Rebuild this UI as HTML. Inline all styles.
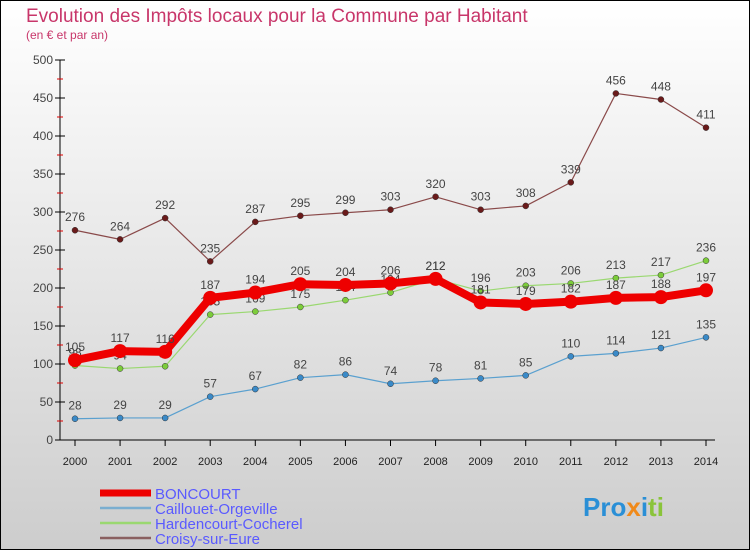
<!DOCTYPE html>
<html><head><meta charset="utf-8"><style>
body{margin:0;}
svg{display:block;font-family:"Liberation Sans",sans-serif;}
</style></head><body>
<svg id="c" width="750" height="550" xmlns="http://www.w3.org/2000/svg">
<defs><linearGradient id="bg" x1="0" y1="0" x2="0" y2="1"><stop offset="0" stop-color="#ffffff"/><stop offset="1" stop-color="#cdcdcd"/></linearGradient></defs>
<rect x="0.5" y="0.5" width="749" height="549" fill="url(#bg)" stroke="#000"/>
<text x="26" y="22" font-size="19" fill="#c8366a">Evolution des Impôts locaux pour la Commune par Habitant</text>
<text x="26" y="39" font-size="12" fill="#c8366a">(en € et par an)</text>
<g id="axes"></g><g id="series"></g><g id="legend"></g>
<text x="583" y="516" font-size="26" font-weight="bold" fill="#2a8fd6">Pro<tspan fill="#f08a1a">x</tspan><tspan fill="#2a8fd6">i</tspan><tspan fill="#8ac43a">ti</tspan></text>
</svg>
<script>
const years=[2000,2001,2002,2003,2004,2005,2006,2007,2008,2009,2010,2011,2012,2013,2014];
const boncourt=[105,117,116,187,194,205,204,206,212,181,179,182,187,188,197];
const caillouet=[28,29,29,57,67,82,86,74,78,81,85,110,114,121,135];
const hardencourt=[98,94,97,165,169,175,184,194,212,196,203,206,213,217,236];
const croisy=[276,264,292,235,287,295,299,303,320,303,308,339,456,448,411];
const yTicks=[0,50,100,150,200,250,300,350,400,450,500];
const NS="http://www.w3.org/2000/svg";
const x=i=>75+i*(706-75)/(years.length-1);
const y=v=>440-v*0.76;
function mk(t,a,p){const e=document.createElementNS(NS,t);for(const k in a)e.setAttribute(k,a[k]);p.appendChild(e);return e;}
const ax=document.getElementById('axes');
let e=mk('line',{x1:60,y1:60,x2:60,y2:440,stroke:'#000'},ax);


e=mk('line',{x1:60,y1:440,x2:715,y2:440,stroke:'#000'},ax);


yTicks.forEach(v=>{
 mk('line',{x1:55,y1:y(v),x2:65,y2:y(v),stroke:'#000'},ax);
 if(v<500)mk('line',{x1:57,y1:y(v+25),x2:63,y2:y(v+25),stroke:'#d00'},ax);
 const t=mk('text',{x:53,y:y(v)+4,'font-size':12,'text-anchor':'end',fill:'#444'},ax);t.textContent=v;
 
 
});
years.forEach((yr,i)=>{
 mk('line',{x1:x(i),y1:440,x2:x(i),y2:446,stroke:'#000'},ax);
 const t=mk('text',{x:x(i),y:465,'font-size':11,'text-anchor':'middle',fill:'#222'},ax);t.textContent=yr;
 
 
});
const S=document.getElementById('series');
function draw(data,color,w,r,name,fill){
 const g=mk('g',{},S);
 
 
 mk('polyline',{points:data.map((v,i)=>x(i)+','+y(v)).join(' '),fill:'none',stroke:color,'stroke-width':w,'stroke-linejoin':'round'},g);
 data.forEach((v,i)=>{
  const c=mk('circle',{cx:x(i),cy:y(v),r:r,fill:fill,stroke:color==='#ee0000'?'none':'#333','stroke-width':0.5},g);
  
  
  const t=mk('text',{x:x(i),y:y(v)-9,'font-size':12,'text-anchor':'middle',fill:'#444'},g);t.textContent=v;
  
  
 });
}
draw(croisy,'#8a4a4a',1.2,3,'croisy','#6a1a1a');
draw(caillouet,'#5aa0cf',1.2,3,'caillouet','#3a8ac8');
draw(hardencourt,'#9ad870',1.2,3,'hardencourt','#7ccc3a');
draw(boncourt,'#ee0000',8,7,'boncourt','#ee0000');
const L=document.getElementById('legend');
const items=[['BONCOURT','#ee0000',7],['Caillouet-Orgeville','#7aaed0',2.5],['Hardencourt-Cocherel','#9ad870',2.5],['Croisy-sur-Eure','#8a6060',2.5]];
items.forEach((it,i)=>{
 const yy=493+i*15;
 const l=mk('line',{x1:100,y1:yy,x2:151,y2:yy,stroke:it[1],'stroke-width':it[2]},L);
 
 
 const t=mk('text',{x:155,y:yy+6,'font-size':15,fill:'#5a5aff'},L);t.textContent=it[0];
 
 
});
</script>
</body></html>
